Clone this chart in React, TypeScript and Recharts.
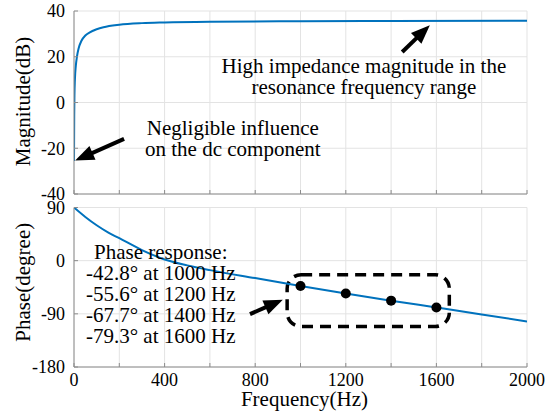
import React from 'react';
import {
  LineChart,
  ComposedChart,
  Line,
  XAxis,
  YAxis,
  CartesianGrid,
  ReferenceLine,
  ReferenceArea,
  ReferenceDot,
} from 'recharts';

// magnitude response (dB)
const magFreq = [0, 1, 2, 4, 8, 13, 20, 33, 50, 70, 100, 130, 200, 300, 400, 600, 1000, 1400, 2000];
const magDb = [-25.6, -6, 3, 10, 16, 20, 23.5, 27, 29.3, 30.7, 32, 32.9, 34, 34.7, 35, 35.3, 35.5, 35.6, 35.7];

// phase response (degree)
const phaseFreq = [0, 50, 100, 150, 200, 300, 400, 500, 600, 800, 1000, 1200, 1400, 1600, 1800, 2000];
const phaseDeg = [90, 74, 60, 48, 38, 18, 2, -8, -16, -29.5, -42.8, -55.6, -67.7, -79.3, -91, -103];

// highlighted points
const markFreq = [1000, 1200, 1400, 1600];
const markDeg = [-42.8, -55.6, -67.7, -79.3];

const freqTicks = [0, 200, 400, 600, 800, 1000, 1200, 1400, 1600, 1800, 2000];
const magTicks = [-40, -20, 0, 20, 40];
const phaseTicks = [-180, -90, 0, 90];

const magNote1 = ['Negligible influence', 'on the dc component'];
const magNote2 = ['High impedance magnitude in the', 'resonance frequency range'];
const phaseNote = [
  'Phase response:',
  '-42.8° at 1000 Hz',
  '-55.6° at 1200 Hz',
  '-67.7° at 1400 Hz',
  '-79.3° at 1600 Hz',
];

const magData = magFreq.map((f, i) => ({ f, db: magDb[i] }));
const phaseData = phaseFreq.map((f, i) => ({ f, deg: phaseDeg[i] }));
const markData = markFreq.map((f, i) => ({ f, deg: markDeg[i] }));

const FONT = "'Liberation Serif', 'DejaVu Serif', Tinos, serif";
const BLUE = '#0072BD';
const FRAME = '#8c8c8c';
const GRID = '#e3e3e3';
const TICK = { fontSize: 18, fill: '#000', style: { fontFamily: FONT } };

const fmtFreq = (v: number) => (v % 400 === 0 ? String(v) : '');

const Arrow = (props: any) => {
  const { x1, y1, x2, y2 } = props;
  if (x1 == null || x2 == null) return null;
  const dx = x2 - x1;
  const dy = y2 - y1;
  const len = Math.hypot(dx, dy);
  const ux = dx / len;
  const uy = dy / len;
  const head = 19;
  const half = 7.5;
  const bx = x2 - ux * head;
  const by = y2 - uy * head;
  return (
    <g>
      <line x1={x1} y1={y1} x2={bx + ux * 3} y2={by + uy * 3} stroke="#000" strokeWidth={4} />
      <polygon
        points={`${x2},${y2} ${bx - uy * half},${by + ux * half} ${bx + uy * half},${by - ux * half}`}
        fill="#000"
      />
    </g>
  );
};

const DashedBox = (props: any) => {
  const { x, y, width, height } = props;
  if (x == null) return null;
  return (
    <rect
      x={x}
      y={y}
      width={width}
      height={height}
      rx={14}
      ry={14}
      fill="none"
      stroke="#000"
      strokeWidth={3.5}
      strokeDasharray="11 7"
    />
  );
};

const yTitle = (text: string, shift: number) => (props: any) => {
  const vb = props.viewBox;
  const cx = vb.x + 23;
  const cy = vb.y + vb.height / 2 + shift;
  return (
    <text
      x={cx}
      y={cy}
      transform={`rotate(-90, ${cx}, ${cy})`}
      textAnchor="middle"
      dominantBaseline="central"
      fontSize={21}
      style={{ fontFamily: FONT }}
      fill="#000"
    >
      {text}
    </text>
  );
};

const xTitle = (props: any) => {
  const vb = props.viewBox;
  return (
    <text
      x={vb.x + vb.width / 2 + 4}
      y={vb.y + 32}
      textAnchor="middle"
      dominantBaseline="central"
      fontSize={21}
      style={{ fontFamily: FONT }}
      fill="#000"
    >
      Frequency(Hz)
    </text>
  );
};

const noteLines = (lines: string[], f: number, ys: number[], key: string) =>
  lines.map((t, i) => (
    <ReferenceDot
      key={key + i}
      x={f}
      y={ys[i]}
      r={0}
      fill="none"
      stroke="none"
      label={{ value: t, position: 'center', fontSize: 21, style: { fontFamily: FONT }, fill: '#000' }}
    />
  ));

const App: React.FC = () => {
  return (
    <div
      style={{
        position: 'absolute',
        left: 0,
        top: 0,
        width: 557,
        height: 416,
        background: '#fff',
        fontFamily: FONT,
      }}
    >
      <div style={{ position: 'absolute', left: 0, top: 190 }}>
        <ComposedChart width={557} height={226} data={phaseData} margin={{ top: 17.5, right: 30, bottom: 0, left: 0 }}>
          <CartesianGrid stroke={GRID} />
          <XAxis
            dataKey="f"
            type="number"
            domain={[0, 2000]}
            ticks={freqTicks}
            interval={0}
            height={49}
            tick={TICK}
            tickFormatter={fmtFreq}
            tickSize={-4}
            tickMargin={10}
            stroke={FRAME}
            allowDataOverflow
            label={xTitle}
          />
          <XAxis
            xAxisId="t"
            orientation="top"
            type="number"
            domain={[0, 2000]}
            ticks={freqTicks}
            interval={0}
            height={0}
            tickFormatter={() => ''}
            tickSize={-4}
            stroke={FRAME}
            allowDataOverflow
          />
          <YAxis
            type="number"
            domain={[-180, 90]}
            ticks={phaseTicks}
            interval={0}
            width={74}
            tick={TICK}
            tickSize={-4}
            tickMargin={13}
            stroke={FRAME}
            allowDataOverflow
            label={yTitle('Phase(degree)', -5)}
          />
          <YAxis
            yAxisId="r"
            orientation="right"
            type="number"
            domain={[-180, 90]}
            ticks={phaseTicks}
            interval={0}
            width={0}
            tickFormatter={() => ''}
            tickSize={-4}
            stroke={FRAME}
            allowDataOverflow
          />
          <Line
            type="monotone"
            dataKey="deg"
            stroke={BLUE}
            strokeWidth={2}
            dot={false}
            isAnimationActive={false}
          />
          <Line
            data={markData}
            dataKey="deg"
            stroke="none"
            dot={{ r: 5, fill: '#000', stroke: 'none' }}
            isAnimationActive={false}
          />
          <ReferenceArea x1={941} x2={1657} y1={-111.5} y2={-23.8} shape={DashedBox} ifOverflow="visible" />
          <ReferenceLine
            segment={[
              { x: 777, y: -90.5 },
              { x: 922, y: -66.2 },
            ]}
            shape={Arrow}
            ifOverflow="visible"
          />
          {noteLines(phaseNote, 383, [15.3, -20.4, -56.0, -91.7, -127.3], 'p')}
        </ComposedChart>
      </div>
      <div style={{ position: 'absolute', left: 0, top: 0 }}>
        <LineChart width={557} height={216} data={magData} margin={{ top: 11, right: 30, bottom: 16, left: 0 }}>
          <CartesianGrid stroke={GRID} />
          <XAxis
            dataKey="f"
            type="number"
            domain={[0, 2000]}
            ticks={freqTicks}
            interval={0}
            height={6}
            tickFormatter={() => ''}
            tickSize={-4}
            stroke={FRAME}
            allowDataOverflow
          />
          <XAxis
            xAxisId="t"
            orientation="top"
            type="number"
            domain={[0, 2000]}
            ticks={freqTicks}
            interval={0}
            height={0}
            tickFormatter={() => ''}
            tickSize={-4}
            stroke={FRAME}
            allowDataOverflow
          />
          <YAxis
            type="number"
            domain={[-40, 40]}
            ticks={magTicks}
            interval={0}
            width={74}
            tick={TICK}
            tickSize={-4}
            tickMargin={13}
            stroke={FRAME}
            allowDataOverflow
            label={yTitle('Magnitude(dB)', -1)}
          />
          <YAxis
            yAxisId="r"
            orientation="right"
            type="number"
            domain={[-40, 40]}
            ticks={magTicks}
            interval={0}
            width={0}
            tickFormatter={() => ''}
            tickSize={-4}
            stroke={FRAME}
            allowDataOverflow
          />
          <Line
            type="monotone"
            dataKey="db"
            stroke={BLUE}
            strokeWidth={2}
            dot={false}
            isAnimationActive={false}
          />
          <ReferenceLine
            segment={[
              { x: 221, y: -15.9 },
              { x: 5, y: -25.4 },
            ]}
            shape={Arrow}
            ifOverflow="visible"
          />
          <ReferenceLine
            segment={[
              { x: 1449, y: 22.1 },
              { x: 1571, y: 33.8 },
            ]}
            shape={Arrow}
            ifOverflow="visible"
          />
          {noteLines(magNote1, 701, [-10.8, -20.1], 'n1')}
          {noteLines(magNote2, 1280, [16.0, 7.0], 'n2')}
        </LineChart>
      </div>
    </div>
  );
};

export default App;
